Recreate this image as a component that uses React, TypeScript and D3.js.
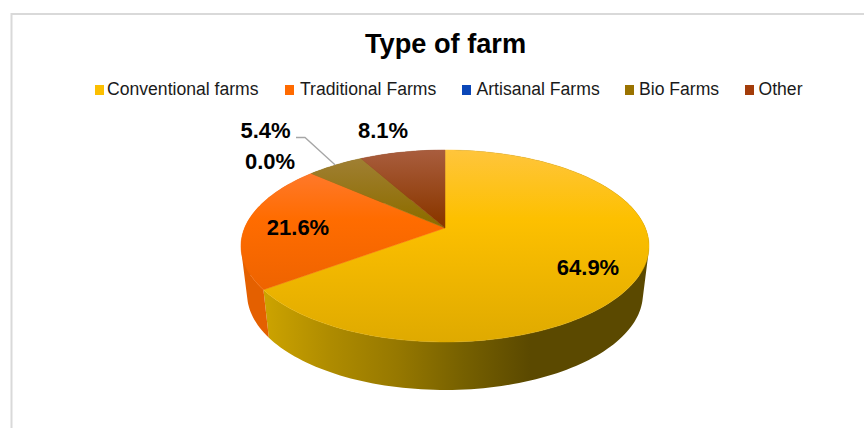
import React from "react";
import * as d3 from "d3";

const categories = ["Conventional farms", "Traditional Farms", "Artisanal Farms", "Bio Farms", "Other"];
const shares = [64.9, 21.6, 0.0, 5.4, 8.1];
const swatchColors = ["#fcbf00", "#ff6a00", "#0a47b8", "#9a7300", "#a33c0a"];
const topLight = ["#ffc53c", "#ff7f40", "#2a63cc", "#a2823a", "#a95d3e"];
const topBase = ["#fdc000", "#ff6c00", "#0a47b8", "#8e6d00", "#8b3800"];
const topDark = ["#dfaa00", "#e25d00", "#0a3c9c", "#806200", "#7e3200"];
const wallStops: string[][] = [
  ["#cca300", "#ae8b00", "#967800", "#766000", "#5b4900"],
  ["#e46000", "#d05600", "#c05000", "#c05000", "#c05000"],
  ["#083a96", "#083a96", "#083a96", "#083a96", "#083a96"],
  ["#6a5200", "#6a5200", "#6a5200", "#6a5200", "#6a5200"],
  ["#6a2a00", "#6a2a00", "#6a2a00", "#6a2a00", "#6a2a00"],
];
const labelSpots = [
  { x: 588, y: 275 },
  { x: 298, y: 235 },
  { x: 270, y: 169 },
  { x: 265.5, y: 138 },
  { x: 383, y: 138 },
];
const swatchX = [95, 285, 462, 625, 745];
const legendTextX = [107, 300, 476.5, 639, 758.5];

// Perspective pie: the circle seen from above, nearer at the front.
const apex = { x: 445, y: 228 };
const baseApexY = 276;
const tilt = 0.1875;
const radiusX = 200.4;
const radiusY = 92.6;
const baseShrink = 0.97;

const project = (angle: number, base = false): [number, number] => {
  const u = Math.sin(angle);
  const v = Math.cos(angle);
  const w = 1 + tilt * v;
  return [
    apex.x + ((base ? baseShrink : 1) * radiusX * u) / w,
    (base ? baseApexY : apex.y) - (radiusY * v) / w,
  ];
};

const pieAngles = d3.pie<number>().sort(null).startAngle(0).endAngle(2 * Math.PI)(shares);
const line = d3.line();
const samples = (a: number, b: number) => {
  const n = Math.max(2, Math.ceil(((b - a) * 180) / Math.PI / 1.5));
  return d3.range(n + 1).map((i) => a + ((b - a) * i) / n);
};
// All quads share one winding so one path fills without seams.
const wallPath = (a: number, b: number) => {
  const angles = samples(a, b);
  return angles
    .slice(1)
    .map((t, k) => {
      const quad: [number, number][] = [project(angles[k]), project(t), project(t, true), project(angles[k], true)];
      if (d3.polygonArea(quad) < 0) quad.reverse();
      return line(quad) + "Z";
    })
    .join("");
};

export default function App() {
  const bioMid = (pieAngles[3].startAngle + pieAngles[3].endAngle) / 2;
  const anchor = project(bioMid);
  return (
    <svg
      width={864}
      height={428}
      style={{ position: "absolute", left: 0, top: 0, background: "#fff", fontFamily: "'Liberation Sans', Arial, sans-serif" }}
    >
      <defs>
        {categories.map((_, i) => (
          <React.Fragment key={i}>
            <linearGradient id={`top${i}`} gradientUnits="userSpaceOnUse" x1={0} x2={0} y1={150} y2={342}>
              <stop offset="0" stopColor={topLight[i]} />
              <stop offset="0.36" stopColor={topBase[i]} />
              <stop offset="1" stopColor={topDark[i]} />
            </linearGradient>
            <linearGradient id={`wall${i}`} gradientUnits="userSpaceOnUse" x1={265} x2={530} y1={0} y2={0}>
              {wallStops[i].map((c, k) => (
                <stop key={k} offset={k / 4} stopColor={c} />
              ))}
            </linearGradient>
          </React.Fragment>
        ))}
      </defs>

      <path d="M864 14H11.5V428" fill="none" stroke="#d9d9d9" strokeWidth={2} />

      <text x={445.5} y={53} textAnchor="middle" fontSize={27.2} fontWeight="bold" fill="#000">
        Type of farm
      </text>

      {categories.map((c, i) => (
        <g key={c}>
          <rect x={swatchX[i]} y={85} width={9} height={10} fill={swatchColors[i]} />
          <text x={legendTextX[i]} y={95} fontSize={17.6} fill="#1a1a1a">
            {c}
          </text>
        </g>
      ))}

      {pieAngles.map((s, i) =>
        s.endAngle - s.startAngle <= 0 ? null : (
          <path key={`wall${i}`} d={wallPath(s.startAngle, s.endAngle)} fill={`url(#wall${i})`} />
        )
      )}

      {pieAngles.map((s, i) => {
        if (s.endAngle - s.startAngle <= 0) return null;
        const rim = samples(s.startAngle, s.endAngle).map((a) => project(a));
        return (
          <path
            key={`top${i}`}
            d={line([[apex.x, apex.y], ...rim]) + "Z"}
            fill={`url(#top${i})`}
            stroke={`url(#top${i})`}
            strokeWidth={0.5}
          />
        );
      })}

      <path
        d={line([[296, 137.5], [305, 137.5], anchor]) as string}
        fill="none"
        stroke="#a6a6a6"
        strokeWidth={1.3}
      />

      {shares.map((v, i) => (
        <text key={i} x={labelSpots[i].x} y={labelSpots[i].y} textAnchor="middle" fontSize={22} fontWeight="bold" fill="#000">
          {`${d3.format(".1f")(v)}%`}
        </text>
      ))}
    </svg>
  );
}
